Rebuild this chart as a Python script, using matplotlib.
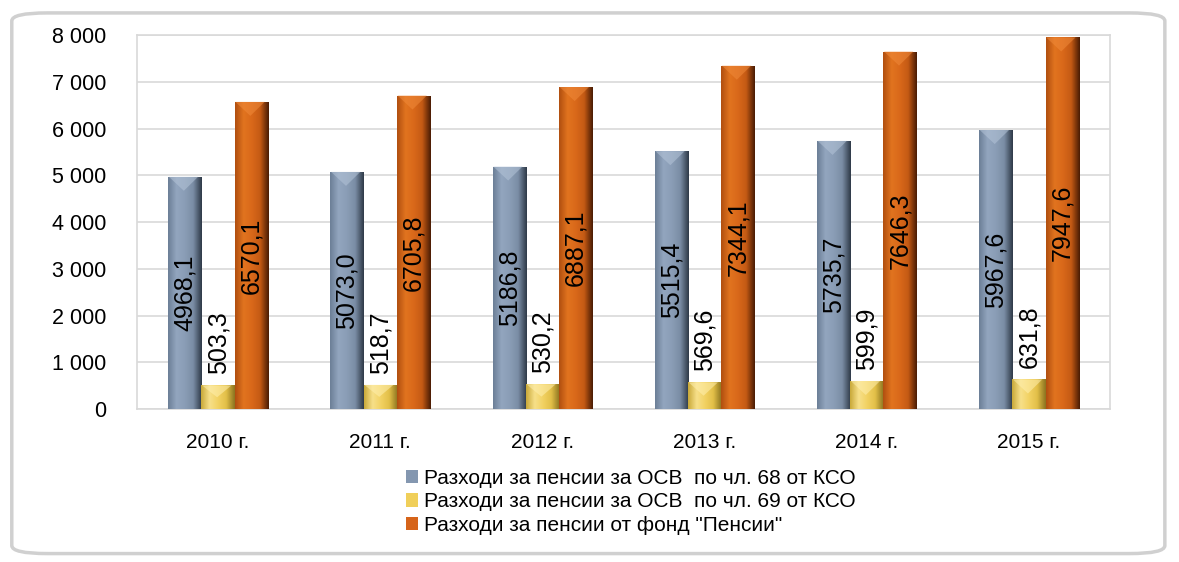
import matplotlib
matplotlib.use("Agg")
import matplotlib.pyplot as plt
import numpy as np
from matplotlib.patches import FancyBboxPatch, Polygon
from matplotlib.colors import LinearSegmentedColormap
from matplotlib.ticker import FuncFormatter

years = ["2010 г.", "2011 г.", "2012 г.", "2013 г.", "2014 г.", "2015 г."]
art68 = [4968.1, 5073.0, 5186.8, 5515.4, 5735.7, 5967.6]
art69 = [503.3, 518.7, 530.2, 569.6, 599.9, 631.8]
fund = [6570.1, 6705.8, 6887.1, 7344.1, 7646.3, 7947.6]
names = ["Разходи за пенсии за ОСВ  по чл. 68 от КСО",
         "Разходи за пенсии за ОСВ  по чл. 69 от КСО",
         "Разходи за пенсии от фонд \"Пенсии\""]

plt.rcParams["font.family"] = ["Liberation Sans", "DejaVu Sans"]

fig = plt.figure(figsize=(11.79, 5.62), dpi=100)
# rounded frame round the chart
frame = FancyBboxPatch((0.010, 0.015), 0.978, 0.962, boxstyle="round,pad=0,rounding_size=0.03",
                       transform=fig.transFigure, facecolor="white", edgecolor="#d0d0d0",
                       linewidth=2.5, mutation_aspect=562 / 1179, zorder=-1)
fig.patches.append(frame)

ax = fig.add_axes([0.1162, 0.2722, 0.8253, 0.6655])
ax.set_facecolor("none")

x = np.arange(len(years))
w = 0.205
colors = ["#8497b0", "#f0cf5a", "#d6641a"]
# bevelled look: gradient across each bar, dark on the right
shades = [["#6c7f97", "#93a6bf", "#8a9db6", "#7a8da5", "#2f3a48"],
          ["#c9a93a", "#f7e08a", "#f2d263", "#e2bf48", "#8c7420"],
          ["#b04f10", "#e2741f", "#d9681a", "#c45a14", "#4a1c04"]]
hilite = ["#b4c4d8", "#fff0b0", "#f08a3a"]

def fancy_bars(xs, vals, col, shade, hi):
    bars = ax.bar(xs, vals, w, color=col, linewidth=0, zorder=3)
    cmap = LinearSegmentedColormap.from_list("b", shade)
    grad = np.linspace(0, 1, 64).reshape(1, -1)
    for b in bars:
        x0, h = b.get_x(), b.get_height()
        im = ax.imshow(grad, extent=(x0, x0 + w, 0, h), aspect="auto", cmap=cmap,
                       origin="lower", zorder=3.1, interpolation="bicubic")
        im.set_clip_path(b)
        th = min(300, h * 0.5)
        ax.add_patch(Polygon([(x0 + 0.02 * w, h), (x0 + 0.9 * w, h), (x0 + 0.47 * w, h - th)],
                             closed=True, facecolor=hi, alpha=0.55, linewidth=0, zorder=3.2))
    return bars

b1 = fancy_bars(x - w, art68, colors[0], shades[0], hilite[0])
b2 = fancy_bars(x, art69, colors[1], shades[1], hilite[1])
b3 = fancy_bars(x + w, fund, colors[2], shades[2], hilite[2])
for b, n in zip([b1, b2, b3], names):
    b.set_label(n)

def fmt(v):
    return f"{v:.1f}".replace(".", ",")

for xi, v in zip(x, art68):
    ax.text(xi - w, v / 2, fmt(v), rotation=90, ha="center", va="center", fontsize=18, zorder=4)
for xi, v in zip(x, art69):
    ax.annotate(fmt(v), (xi, v), xytext=(0, 8), textcoords="offset points",
                rotation=90, ha="center", va="bottom", fontsize=18, zorder=4)
for xi, v in zip(x, fund):
    ax.text(xi + w, v / 2, fmt(v), rotation=90, ha="center", va="center", fontsize=18, zorder=4)

ax.set_xlim(-0.5, len(years) - 0.5)
ax.set_ylim(0, 8000)
ax.set_aspect("auto")
ax.set_yticks(range(0, 8001, 1000))
ax.yaxis.set_major_formatter(FuncFormatter(lambda v, p: f"{int(v):,}".replace(",", " ")))
ax.set_xticks(x)
ax.set_xticklabels(years)
ax.tick_params(axis="y", labelsize=15.5, length=0, pad=22)
ax.tick_params(axis="x", labelsize=15, length=0, pad=17)
ax.grid(axis="y", color="#d9d9d9", linewidth=1.2, zorder=0)
for s in ax.spines.values():
    s.set_color("#d9d9d9")
    s.set_linewidth(1.2)

fig.legend(handles=[b1, b2, b3], loc="center", bbox_to_anchor=(0.535, 0.107), frameon=False,
           fontsize=15, handlelength=0.6, handleheight=0.6, handletextpad=0.3,
           labelspacing=0.22, alignment="left")

fig.savefig("out.png", dpi=100)
